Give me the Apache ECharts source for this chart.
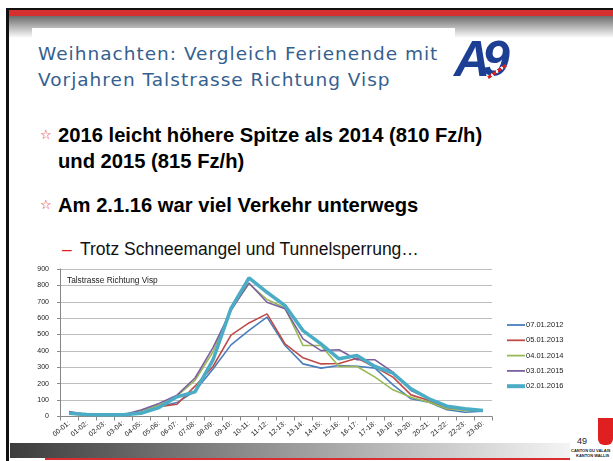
<!DOCTYPE html>
<html>
<head>
<meta charset="utf-8">
<script src="https://cdn.jsdelivr.net/npm/echarts@6/dist/echarts.min.js"></script>
<style>
  html, body { margin: 0; padding: 0; background: #fff; }
  #slide { position: relative; width: 613px; height: 461px; overflow: hidden; font-family: "Liberation Sans", Arial, sans-serif; }
  .abs { position: absolute; }
  #topline { left: 7px; top: 8px; width: 606px; height: 2px; background: #111; }
  #topred { left: 7px; top: 10px; width: 606px; height: 6px; background: #d62f2f; }
  #topgrad { left: 7px; top: 16px; width: 606px; height: 22px; background: linear-gradient(#6c6c6c, #fff); }
  #leftline { left: 6px; top: 8px; width: 3px; height: 453px; background: #111; }
  #titlebox { left: 32px; top: 28px; width: 423px; height: 70px; background: #fff; }
  #title { left: 38px; top: 41px; color: #35608f; font-family: "DejaVu Sans", sans-serif; font-size: 18.5px; line-height: 26px; letter-spacing: 1px; }
  .bullet { left: 58px; color: #000; font-weight: bold; font-size: 20.2px; line-height: 26px; }
  .star { color: #e41b1b; font-size: 13px; font-family: "DejaVu Sans", sans-serif; left: 40px; }
  #sub { left: 80px; top: 239px; font-size: 17.5px; color: #111; }
  #dash { left: 62px; top: 239px; font-size: 17.5px; color: #e41b1b; }
  #bottombar { left: 10px; top: 443px; width: 560px; height: 15px; background: linear-gradient(90deg, #3c3c3c, #9a9a9a 50%, #f4f4f4); }
  #bottomred { left: 45px; top: 458px; width: 525px; height: 2px; background: #d62f2f; }
  #chart { left: 0px; top: 260px; width: 613px; height: 183px; }
  #pnum { left: 577px; top: 436px; font-size: 9px; color: #222; }
  .canton { font-size: 4px; font-weight: bold; color: #222; white-space: nowrap; }
  #a9 { left: 454px; top: 30px; font-size: 50px; font-weight: bold; font-style: italic; color: #1c3f94; letter-spacing: -8px; font-family: "Liberation Sans", Arial, sans-serif; }
  #a9red { left: 486px; top: 70px; width: 22px; height: 3px; background: repeating-linear-gradient(90deg, #e02020 0 4px, #fff 4px 6px); transform: rotate(-35deg); }
  #wappen { left: 598px; top: 418px; width: 15px; height: 27px; background: #e02020; border-radius: 0 0 6px 6px; }
</style>
</head>
<body>
<div id="slide">
  <div id="topline" class="abs"></div>
  <div id="topred" class="abs"></div>
  <div id="topgrad" class="abs"></div>
  <div id="leftline" class="abs"></div>
  <div id="titlebox" class="abs"></div>
  <div id="title" class="abs">Weihnachten: Vergleich Ferienende mit<br>Vorjahren Talstrasse Richtung Visp</div>
  <div id="a9" class="abs">A9</div>
  <div id="a9red" class="abs"></div>
  <div class="abs star" style="top:127px">☆</div>
  <div class="abs bullet" style="top:122px">2016 leicht höhere Spitze als 2014 (810 Fz/h)<br>und 2015 (815 Fz/h)</div>
  <div class="abs star" style="top:197px">☆</div>
  <div class="abs bullet" style="top:192px">Am 2.1.16 war viel Verkehr unterwegs</div>
  <div id="dash" class="abs">–</div>
  <div id="sub" class="abs">Trotz Schneemangel und Tunnelsperrung…</div>
  <div id="bottombar" class="abs"></div>
  <div id="bottomred" class="abs"></div>
  <div id="pnum" class="abs">49</div>
  <div class="abs canton" style="left:571px;top:448px">CANTON DU VALAIS</div>
  <div class="abs canton" style="left:576px;top:453px">KANTON WALLIS</div>
  <div id="wappen" class="abs"></div>
  <div id="chart" class="abs"></div>
</div>
<script>
const hours = ['00-01:', '01-02:', '02-03:', '03-04:', '04-05:', '05-06:', '06-07:', '07-08:',
  '08-09:', '09-10:', '10-11:', '11-12:', '12-13:', '13-14:', '14-15:', '15-16:',
  '16-17:', '17-18:', '18-19:', '19-20:', '20-21:', '21-22:', '22-23:', '23-00:'];

const d2012 = [25, 12, 10, 8, 25, 60, 85, 155, 290, 437, 525, 606, 433, 321, 295, 311, 307, 295, 193, 108, 87, 41, 26, 33];
const d2013 = [15, 10, 8, 8, 20, 60, 75, 185, 305, 496, 571, 626, 443, 358, 321, 323, 356, 301, 240, 132, 98, 47, 43, 37];
const d2014 = [15, 10, 8, 8, 35, 70, 125, 220, 395, 656, 810, 714, 663, 433, 433, 305, 305, 240, 163, 118, 87, 47, 37, 37];
const d2015 = [30, 12, 10, 10, 40, 80, 130, 235, 420, 646, 815, 697, 657, 474, 402, 407, 346, 346, 270, 159, 108, 57, 45, 37];
const d2016 = [20, 12, 10, 10, 20, 55, 120, 150, 345, 660, 846, 758, 677, 524, 443, 352, 372, 305, 264, 169, 108, 63, 47, 37];

const names = ['07.01.2012', '05.01.2013', '04.01.2014', '03.01.2015', '02.01.2016'];
const colors = ['#4a7ebb', '#be4b48', '#98b954', '#7d60a0', '#4bacc6'];
const widths = [1.6, 1.6, 1.6, 1.6, 3.5];
const values = [d2012, d2013, d2014, d2015, d2016];

const chart = echarts.init(document.getElementById('chart'));
chart.setOption({
  animation: false,
  textStyle: { fontFamily: 'Liberation Sans, Arial, sans-serif' },
  title: {
    text: 'Talstrasse Richtung Visp',
    left: 62, top: 12,
    textStyle: { fontSize: 8.3, fontWeight: 'normal', color: '#222' }
  },
  legend: {
    orient: 'vertical',
    left: 500, top: 55,
    itemWidth: 18, itemHeight: 10, itemGap: 5.3,
    itemStyle: { opacity: 0 },
    textStyle: { fontSize: 7.5, color: '#222', padding: [0, 0, 0, -4], lineHeight: 10 },
    data: names.map((n, i) => ({ name: n, lineStyle: { width: i === 4 ? 4 : 1.8 } }))
  },
  grid: { left: 60, top: 9, width: 432, height: 147.5 },
  xAxis: {
    type: 'category',
    data: hours,
    axisLine: { lineStyle: { color: '#888', width: 1 } },
    axisTick: { show: true, length: 4, lineStyle: { color: '#888' } },
    axisLabel: { rotate: 40, fontSize: 7, color: '#222', margin: 6, interval: 0 }
  },
  yAxis: {
    type: 'value',
    min: 0, max: 900, interval: 100,
    axisLine: { show: true, lineStyle: { color: '#888' } },
    axisTick: { show: true, length: 3, lineStyle: { color: '#888' } },
    axisLabel: { fontSize: 7, color: '#222', margin: 11 },
    splitLine: { lineStyle: { color: '#bdbdbd', width: 1 } }
  },
  series: values.map((v, i) => ({
    name: names[i],
    type: 'line',
    data: v,
    symbol: 'none',
    color: colors[i],
    lineStyle: { color: colors[i], width: widths[i] },
    z: i === 4 ? 5 : 2
  }))
});
</script>
</body>
</html>
